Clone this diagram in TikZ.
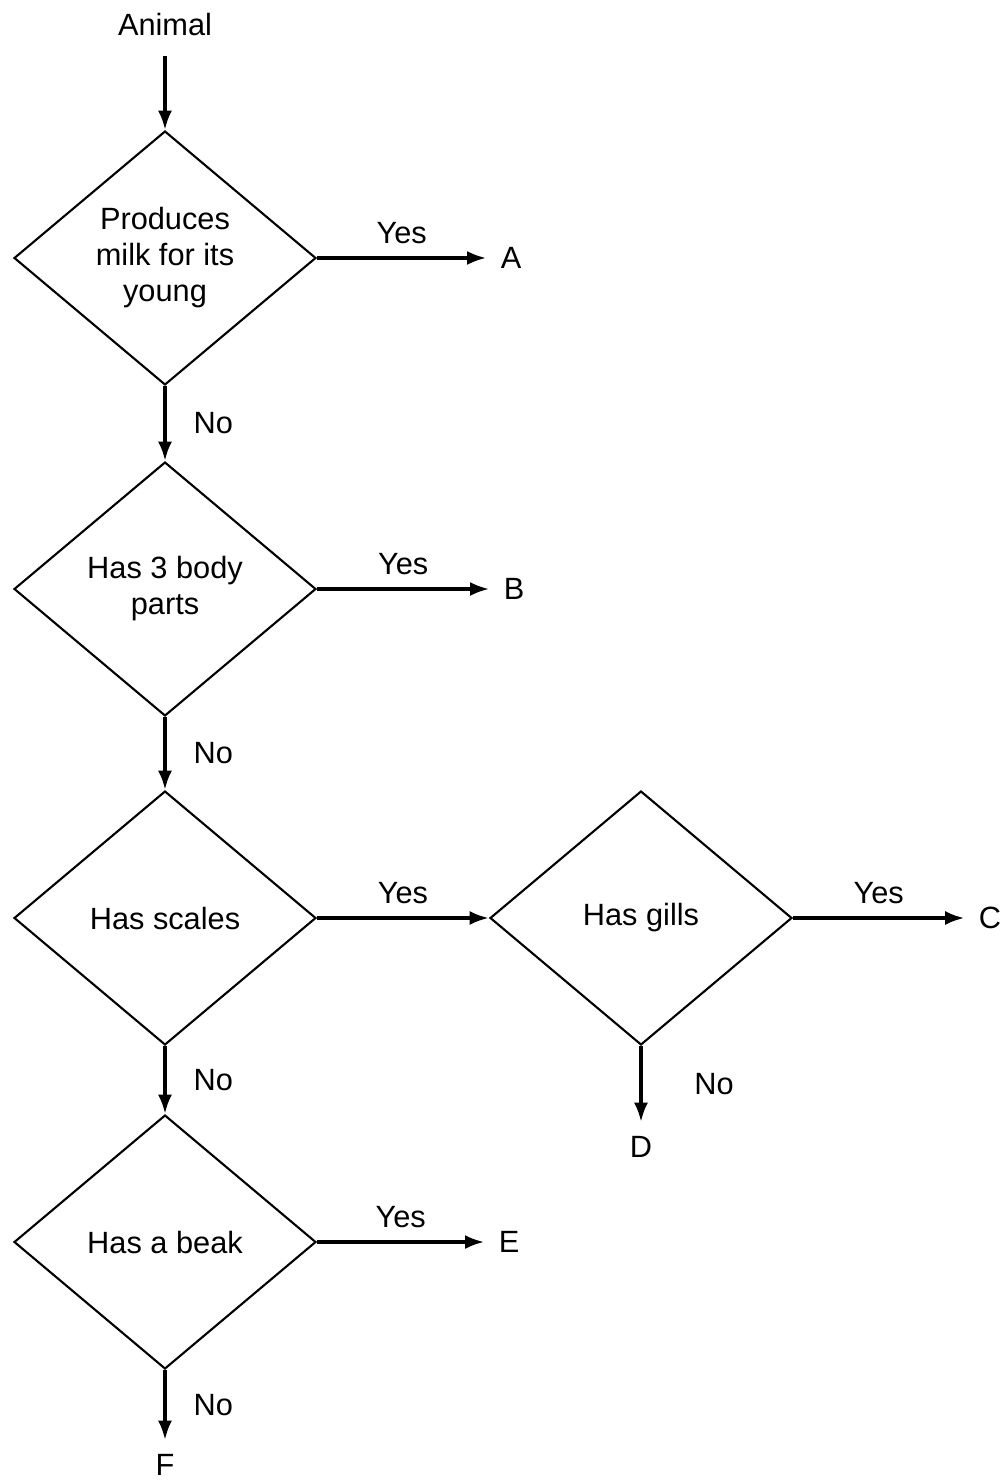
\documentclass[tikz,border=0pt]{standalone}
\usepackage{fontspec}
\setmainfont{Liberation Sans}
\usetikzlibrary{shapes.geometric,arrows.meta}

\begin{document}
\begin{tikzpicture}[x=0.02cm, y=-0.02cm,
    font=\fontsize{17.5}{20.5}\selectfont,
    decide/.style={diamond, draw, line width=1.2pt, minimum width=6.04cm,
        minimum height=5.08cm, inner sep=0pt, align=center},
    leaf/.style={inner sep=8pt},
    flow/.style={-{Latex[length=11pt,width=8pt]}, line width=2pt},
    yes/.style={midway, above=4pt},
    no/.style={midway, right=12pt}]
    \useasboundingbox (0,0) rectangle (1007,1483);

    % 起点
    \node[leaf, inner sep=11pt] (animal) at (165,25) {Animal};

    % 判断框
    \node[decide] (milk)   at (165,258)  {Produces\\milk for its\\young};
    \node[decide] (body)   at (165,589)  {Has 3 body\\parts};
    \node[decide] (scales) at (165,918)  {Has scales};
    \node[decide] (gills)  at (641,918)  {Has gills};
    \node[decide] (beak)   at (165,1242) {Has a beak};

    % 结果
    \node[leaf] (A) at (511,258)  {A};
    \node[leaf] (B) at (514,589)  {B};
    \node[leaf] (C) at (990,918)  {C};
    \node[leaf] (D) at (641,1147) {D};
    \node[leaf] (E) at (509,1242) {E};
    \node[leaf] (F) at (165,1465) {F};

    % 箭头
    \draw[flow] (animal) -- (milk);
    \draw[flow] (milk) -- node[yes] {Yes} (A);
    \draw[flow] (milk) -- node[no] {No} (body);
    \draw[flow] (body) -- node[yes] {Yes} (B);
    \draw[flow] (body) -- node[no] {No} (scales);
    \draw[flow] (scales) -- node[yes] {Yes} (gills);
    \draw[flow] (scales) -- node[no] {No} (beak);
    \draw[flow] (gills) -- node[yes] {Yes} (C);
    \draw[flow] (gills) -- node[no, right=14pt] {No} (D);
    \draw[flow] (beak) -- node[yes] {Yes} (E);
    \draw[flow] (beak) -- node[no] {No} (F);
\end{tikzpicture}
\end{document}
